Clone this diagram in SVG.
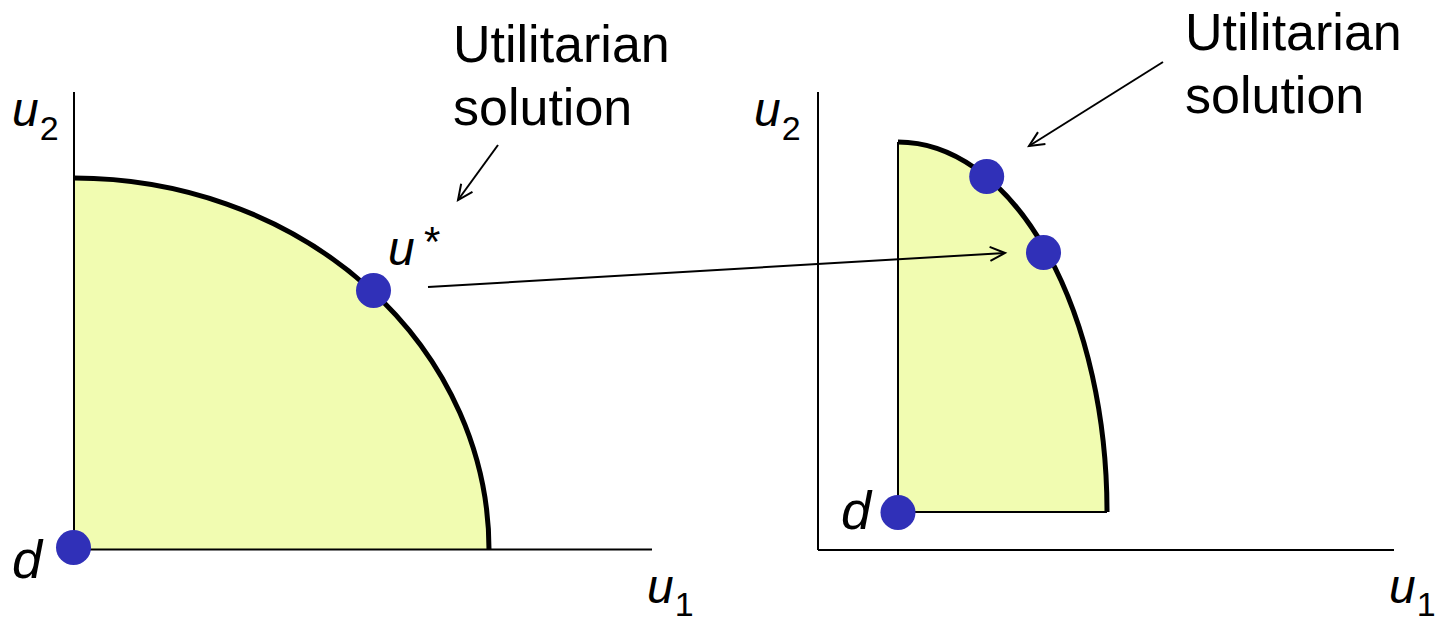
<svg xmlns="http://www.w3.org/2000/svg" width="1441" height="621" viewBox="0 0 1441 621">
<style>
.ax{stroke:#000;stroke-width:2;fill:none}
.region{fill:#F1FCB1;stroke:none}
.edge{stroke:#000;stroke-width:2;fill:none}
.front{stroke:#000;stroke-width:5;fill:none}
.dot{fill:#3030B8}
.lbl{font-family:"Liberation Sans",Arial,sans-serif;font-size:52px;fill:#000}
.var{font-family:"Liberation Sans",Arial,sans-serif;font-style:italic;font-size:48px;fill:#000}
.sub{font-family:"Liberation Sans",Arial,sans-serif;font-style:normal;font-size:34px;fill:#000}
.conn{stroke:#000;stroke-width:2;fill:none}
</style>
<defs>
<marker id="arr" markerUnits="userSpaceOnUse" markerWidth="20" markerHeight="20" refX="16" refY="8" orient="auto">
<path d="M1,1 L16,8 L1,15" fill="none" stroke="#000" stroke-width="2"/>
</marker>
</defs>
<g id="left-plot">
<path class="region" d="M74,178 A415,371.5 0 0 1 489,549.5 L74,549.5 Z"/>
<line class="ax" x1="74" y1="92" x2="74" y2="549.5"/>
<line class="ax" x1="74" y1="549.5" x2="652" y2="549.5"/>
<path class="front" d="M74,178 A415,371.5 0 0 1 489,549.5"/>
<text class="var" x="12" y="126">u<tspan class="sub" dx="1" dy="14">2</tspan></text>
<text class="var" x="647" y="603">u<tspan class="sub" dx="1" dy="13">1</tspan></text>
<text class="var" x="12" y="578" style="font-size:54px">d</text>
</g>
<g id="left-d"><circle class="dot" cx="73.5" cy="547.5" r="17.5"/></g>
<g id="u-star">
<circle class="dot" cx="373.5" cy="290.5" r="17.5"/>
<text class="var" x="388" y="265">u</text>
<text class="lbl" x="424" y="256" style="font-size:42px">*</text>
</g>
<g id="right-plot">
<line class="ax" x1="818" y1="92" x2="818" y2="550"/>
<line class="ax" x1="818" y1="550" x2="1394" y2="550"/>
<path class="region" d="M898,142 A209,370 0 0 1 1107,512 L898,512 Z"/>
<path class="edge" d="M898,512 L898,142 M898,512 L1107,512"/>
<path class="front" d="M898,142 A209,370 0 0 1 1107,512"/>
<text class="var" x="754" y="126">u<tspan class="sub" dx="1" dy="14">2</tspan></text>
<text class="var" x="1389" y="603">u<tspan class="sub" dx="1" dy="13">1</tspan></text>
<text class="var" x="841" y="529" style="font-size:54px">d</text>
</g>
<g id="right-d"><circle class="dot" cx="898" cy="512.5" r="17.5"/></g>
<g id="right-u1"><circle class="dot" cx="986.7" cy="176.5" r="17.5"/></g>
<g id="right-u2"><circle class="dot" cx="1043.5" cy="252.5" r="17.5"/></g>
<g id="label-left"><text class="lbl" x="453" y="62">Utilitarian</text><text class="lbl" x="453" y="125">solution</text></g>
<g id="label-right"><text class="lbl" x="1185" y="50">Utilitarian</text><text class="lbl" x="1185" y="113">solution</text></g>
<g id="connectors">
<line class="conn" x1="428" y1="287" x2="1005" y2="253" marker-end="url(#arr)"/>
<line class="conn" x1="498" y1="145" x2="458" y2="200" marker-end="url(#arr)"/>
<line class="conn" x1="1163" y1="62" x2="1029" y2="146" marker-end="url(#arr)"/>
</g>
</svg>
